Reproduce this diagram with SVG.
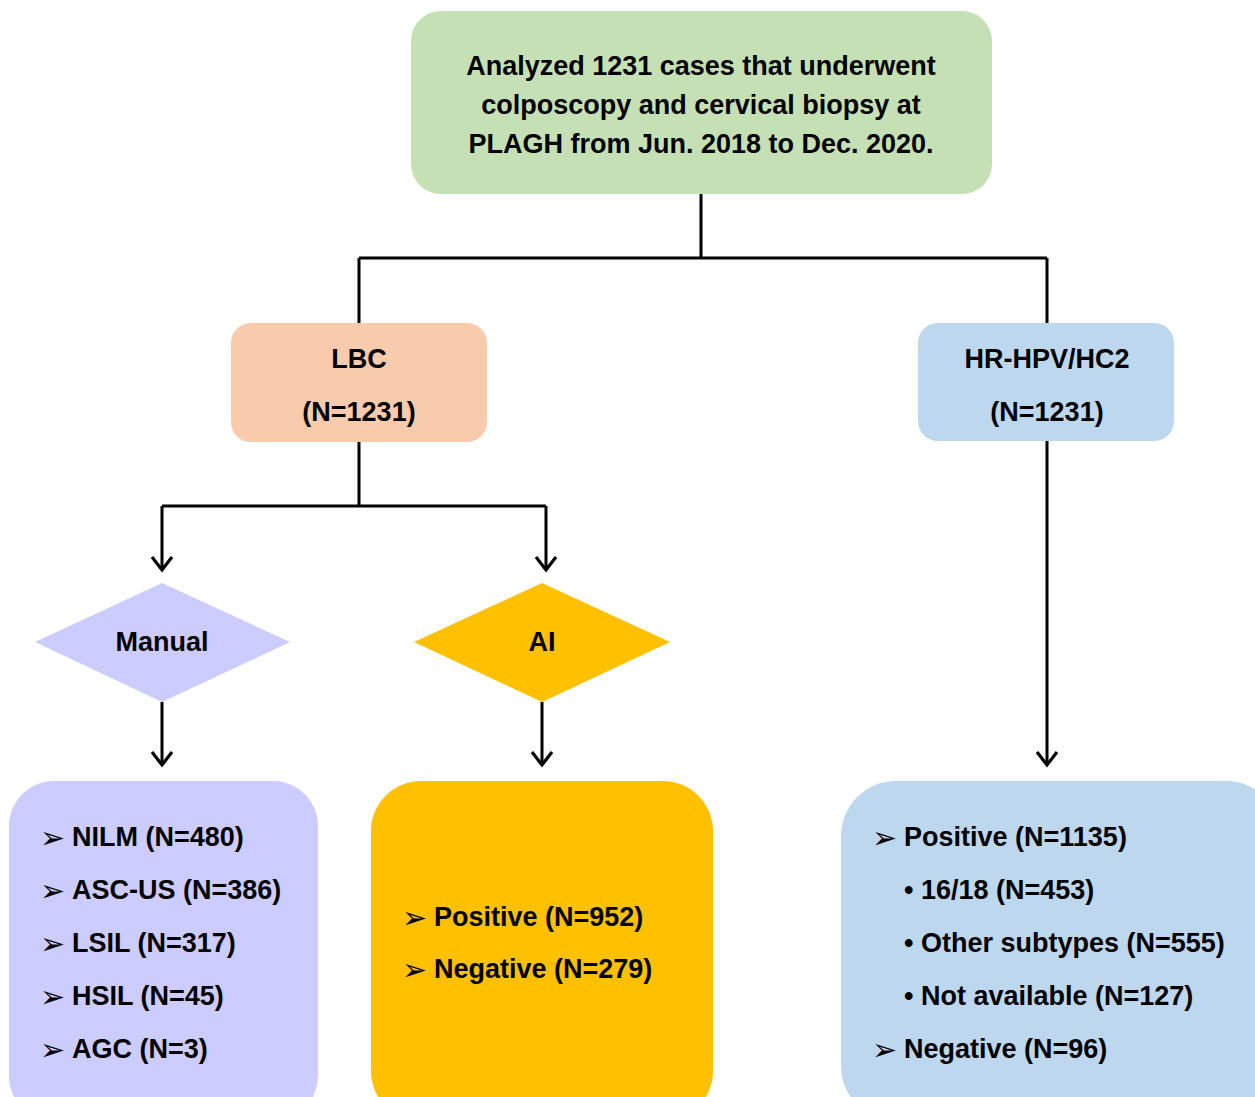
<svg xmlns="http://www.w3.org/2000/svg" width="1255" height="1097" viewBox="0 0 1255 1097">
<defs>
<marker id="chev" markerUnits="userSpaceOnUse" markerWidth="22" markerHeight="26" refX="17" refY="13" orient="auto" viewBox="0 0 22 26">
<path d="M4,3 L17,13 L4,23" fill="none" stroke="#000" stroke-width="3.2" stroke-linejoin="miter"/>
</marker>
<style>
.t{font-family:"Liberation Sans",Arial,sans-serif;font-weight:bold;font-size:27px;fill:#000}
.c{text-anchor:middle}
.b{font-family:"DejaVu Sans",sans-serif;font-size:30px;fill:#000}
.ln{fill:none;stroke:#000;stroke-width:3}
</style>
</defs>
<rect width="1255" height="1097" fill="#fff"/>
<g id="connectors">
<path class="ln" d="M701,194 V258 M359,258 H1047 M359,258 V323 M1047,258 V323"/>
<path class="ln" d="M359,442 V506 M162,506 H546"/>
<path class="ln" d="M162,506 V570" marker-end="url(#chev)"/>
<path class="ln" d="M546,506 V570" marker-end="url(#chev)"/>
<path class="ln" d="M162,702 V765" marker-end="url(#chev)"/>
<path class="ln" d="M542,702 V765" marker-end="url(#chev)"/>
<path class="ln" d="M1047,441 V765" marker-end="url(#chev)"/>
</g>
<g id="top">
<rect x="411" y="11" width="581" height="183" rx="30" fill="#C5E0B4"/>
<text class="t c" x="701" y="75">Analyzed 1231 cases that underwent</text>
<text class="t c" x="701" y="114">colposcopy and cervical biopsy at</text>
<text class="t c" x="701" y="153">PLAGH from Jun. 2018 to Dec. 2020.</text>
</g>
<g id="lbc">
<rect x="231" y="323" width="256" height="119" rx="20" fill="#F8CBAD"/>
<text class="t c" x="359" y="368">LBC</text>
<text class="t c" x="359" y="421">(N=1231)</text>
</g>
<g id="hpv">
<rect x="918" y="323" width="256" height="118" rx="20" fill="#BDD7EE"/>
<text class="t c" x="1047" y="368">HR-HPV/HC2</text>
<text class="t c" x="1047" y="421">(N=1231)</text>
</g>
<g id="manual">
<polygon points="35,642 162,583 290,642 162,702" fill="#CCCCFF"/>
<text class="t c" x="162" y="651">Manual</text>
</g>
<g id="ai">
<polygon points="414,642 542,583 670,642 542,702" fill="#FFC000"/>
<text class="t c" x="542" y="651">AI</text>
</g>
<g id="manual-results">
<rect x="9" y="781" width="309" height="340" rx="45" fill="#CCCCFF"/>
<text class="b" x="40" y="848">➢</text><text class="t" x="72" y="846">NILM (N=480)</text>
<text class="b" x="40" y="901">➢</text><text class="t" x="72" y="899">ASC-US (N=386)</text>
<text class="b" x="40" y="954">➢</text><text class="t" x="72" y="952">LSIL (N=317)</text>
<text class="b" x="40" y="1007">➢</text><text class="t" x="72" y="1005">HSIL (N=45)</text>
<text class="b" x="40" y="1060">➢</text><text class="t" x="72" y="1058">AGC (N=3)</text>
</g>
<g id="ai-results">
<rect x="371" y="781" width="342" height="340" rx="50" fill="#FFC000"/>
<text class="b" x="402" y="928">➢</text><text class="t" x="434" y="926">Positive (N=952)</text>
<text class="b" x="402" y="980">➢</text><text class="t" x="434" y="978">Negative (N=279)</text>
</g>
<g id="hpv-results">
<rect x="841" y="781" width="440" height="340" rx="55" fill="#BDD7EE"/>
<text class="b" x="872" y="848">➢</text><text class="t" x="904" y="846">Positive (N=1135)</text>
<text class="t" x="904" y="899">• 16/18 (N=453)</text>
<text class="t" x="904" y="952">• Other subtypes (N=555)</text>
<text class="t" x="904" y="1005">• Not available (N=127)</text>
<text class="b" x="872" y="1060">➢</text><text class="t" x="904" y="1058">Negative (N=96)</text>
</g>
</svg>
